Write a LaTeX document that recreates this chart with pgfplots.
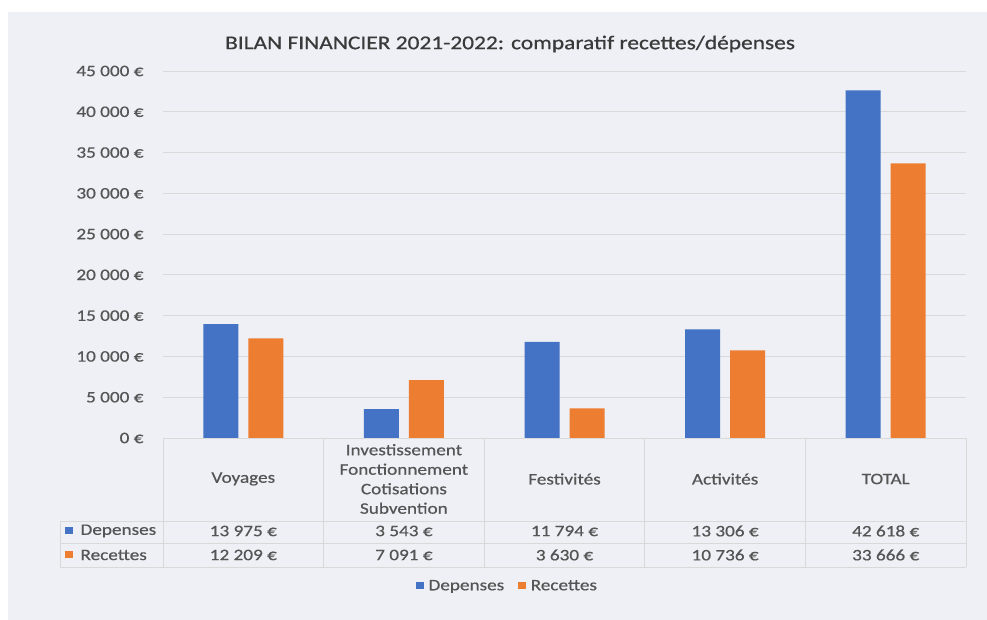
\documentclass[border=0pt]{standalone}
\usepackage{pgfplots}
\pgfplotsset{compat=1.18}
\usepackage{fontspec}
\setmainfont{Carlito}[FakeStretch=1.2,FakeBold=0.6]
\definecolor{bg}{HTML}{EEF0F6}
\definecolor{txt}{HTML}{555555}
\definecolor{ttl}{HTML}{3A3A3A}
\definecolor{grd}{HTML}{D9D9D9}
\definecolor{dep}{HTML}{4472C4}
\definecolor{rec}{HTML}{ED7D31}
\begin{document}
\begin{tikzpicture}[x=1pt,y=1pt]
\useasboundingbox (0,0) rectangle (987,620);
\fill[white] (0,0) rectangle (987,620);
\fill[bg] (8,0) rectangle (987,608);
\node[text=ttl,font=\fontsize{19.5}{22}\selectfont] at (510,576) {BILAN FINANCIER 2021-2022: comparatif recettes/dépenses};
\begin{axis}[
  at={(163pt,182pt)}, anchor=south west,
  scale only axis, width=803pt, height=367pt,
  xmin=-0.5, xmax=4.5, ymin=0, ymax=45000,
  axis line style={draw=none},
  ybar=10pt, bar width=35pt,
  xtick=\empty,
  ytick={0,5000,...,45000},
  scaled y ticks=false,
  yticklabels={0 €,5 000 €,10 000 €,15 000 €,20 000 €,25 000 €,30 000 €,35 000 €,40 000 €,45 000 €},
  yticklabel style={text=txt,font=\fontsize{16}{18}\selectfont,anchor=east,xshift=-16pt},
  ymajorgrids, major grid style={grd,line width=0.8pt},
  major tick length=0pt, tick style={draw=none},
  legend style={at={(0.429,-0.403)},anchor=center,draw=none,fill=none,
    legend columns=2,font=\fontsize{16}{18}\selectfont,text=txt,
    /tikz/every odd column/.append style={column sep=3pt},
    /tikz/every even column/.append style={column sep=12pt}},
  legend image code/.code={\fill[#1] (0pt,-3.5pt) rectangle (7.5pt,4pt);},
]
\addplot[fill=dep,draw=none] coordinates {(0,13975) (1,3543) (2,11794) (3,13306) (4,42618)};
\addplot[fill=rec,draw=none] coordinates {(0,12209) (1,7091) (2,3630) (3,10736) (4,33666)};
\legend{Depenses,Recettes}
\end{axis}
% data table
\begin{scope}[grd,line width=0.8pt]
\draw (163,182) -- (966,182);
\draw (60,99) -- (966,99);
\draw (60,77) -- (966,77);
\draw (60,53) -- (966,53);
\draw (60,99) -- (60,53);
\foreach \xx in {163,323.6,484.2,644.8,805.4,966} \draw (\xx,182) -- (\xx,53);
\end{scope}
\begin{scope}[every node/.style={text=txt,font=\fontsize{16}{19.5}\selectfont}]
\node at (243.3,141) {Voyages};
\node[align=center] at (403.9,141) {Investissement\\Fonctionnement\\Cotisations\\Subvention};
\node at (564.5,141) {Festivités};
\node at (725.1,141) {Activités};
\node at (885.7,141) {TOTAL};
\node at (243.3,89) {13 975 €};
\node at (403.9,89) {3 543 €};
\node at (564.5,89) {11 794 €};
\node at (725.1,89) {13 306 €};
\node at (885.7,89) {42 618 €};
\node at (243.3,65) {12 209 €};
\node at (403.9,65) {7 091 €};
\node at (564.5,65) {3 630 €};
\node at (725.1,65) {10 736 €};
\node at (885.7,65) {33 666 €};
\fill[dep] (65,85.5) rectangle (72.5,93);
\fill[rec] (65,61.5) rectangle (72.5,69);
\node[anchor=west] at (77,89) {Depenses};
\node[anchor=west] at (77,65) {Recettes};
\end{scope}
\end{tikzpicture}
\end{document}
